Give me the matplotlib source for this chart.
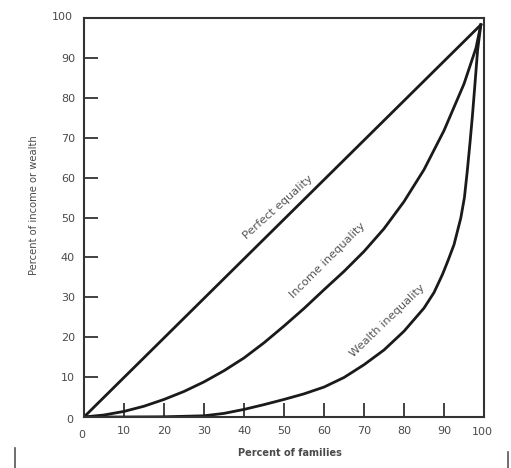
import matplotlib
matplotlib.use('Agg')
import matplotlib.pyplot as plt
from matplotlib.lines import Line2D

# Lorenz curves
equal_x = [0, 99.2]
equal_y = [0, 98.3]

income_x = [0, 5, 10, 15, 20, 25, 30, 35, 40, 45, 50, 55, 60, 65, 70, 75, 80, 85, 90, 95, 98, 99.2]
income_y = [0, 0.5, 1.4, 2.7, 4.4, 6.4, 8.8, 11.6, 14.8, 18.6, 22.8, 27.2, 31.9, 36.5, 41.5, 47.2, 54, 62, 71.8, 83.5, 92.5, 98.3]

wealth_x = [0, 10, 20, 30, 35, 40, 45, 50, 55, 60, 65, 70, 75, 80, 85, 87.5, 89.6, 91, 92.5,
            94.2, 95.1, 95.8, 96.5, 97.1, 97.7, 98.4, 99.2]
wealth_y = [0, 0, 0.05, 0.3, 0.9, 1.9, 3.1, 4.4, 5.8, 7.5, 9.9, 13.1, 16.8, 21.5, 27.3, 31.2, 35.7, 39.2, 43.2,
            49.9, 55, 61.5, 68.8, 75.5, 83, 92, 98.3]

ticks = [10, 20, 30, 40, 50, 60, 70, 80, 90]

txt = '#4a4a4a'
plt.rcParams['font.family'] = 'DejaVu Sans'

fig = plt.figure(figsize=(5.11, 4.68), dpi=100)
ax = fig.add_axes([0.1644, 0.109, 0.7828, 0.8525])

ax.plot(equal_x, equal_y, color='#1a1a1a', lw=2, solid_joinstyle='round')
ax.plot(income_x, income_y, color='#1a1a1a', lw=2, solid_joinstyle='round')
ax.plot(wealth_x, wealth_y, color='#1a1a1a', lw=2, solid_joinstyle='round')

ax.set_xlim(0, 100)
ax.set_ylim(0, 100)
ax.set_xticks(ticks)
ax.set_yticks(ticks)
ax.tick_params(direction='in', length=10, width=1.3, color='#333333',
               labelsize=8, labelcolor=txt, pad=6.5)
for s in ax.spines.values():
    s.set_linewidth(1.5)
    s.set_color('#333333')

# 0 and 100 labels sit at the corners without tick marks
ax.text(-0.5, -3.2, '0', ha='center', va='top', fontsize=8, color=txt)
ax.text(99.5, -2.4, '100', ha='center', va='top', fontsize=8, color=txt)
ax.text(-2.8, -0.8, '0', ha='right', va='center', fontsize=8, color=txt)
ax.text(-2.8, 100.3, '100', ha='right', va='center', fontsize=8, color=txt)

ax.set_xlabel('Percent of families', fontsize=7, color=txt, fontweight='bold')
ax.xaxis.set_label_coords(0.515, -0.078)
ax.set_ylabel('Percent of income or wealth', fontsize=7.2, color=txt)
ax.yaxis.set_label_coords(-0.112, 0.53)

ax.text(48.5, 52.6, 'Perfect equality', rotation=42, ha='center', va='center',
        fontsize=8.2, color='#555555', rotation_mode='anchor')
ax.text(60.8, 39.3, 'Income inequality', rotation=45, ha='center', va='center',
        fontsize=8.2, color='#555555', rotation_mode='anchor')
ax.text(75.8, 24, 'Wealth inequality', rotation=44, ha='center', va='center',
        fontsize=8.2, color='#555555', rotation_mode='anchor')

# scan marks at the bottom corners
fig.add_artist(Line2D([15 / 511, 15 / 511], [0, 20 / 468], color='#555555', lw=1.2))
fig.add_artist(Line2D([508 / 511, 508 / 511], [0, 16 / 468], color='#555555', lw=1.2))

fig.savefig('out.png', dpi=100, facecolor='white')
